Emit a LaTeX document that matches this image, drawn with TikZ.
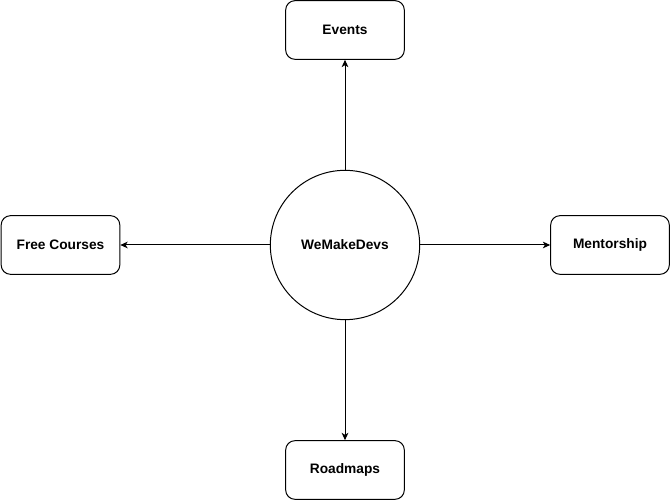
\documentclass[tikz,border=0pt]{standalone}
\usepackage{fontspec}
\setmainfont{Liberation Sans}
\usetikzlibrary{arrows.meta}

\begin{document}
\begin{tikzpicture}[x=0.75pt,y=0.75pt,line width=0.75pt,
    topic/.style={draw,rounded corners=7pt,minimum width=89pt,minimum height=44pt,
                  inner sep=0pt,font=\fontsize{10.3}{12}\selectfont\bfseries},
    hub/.style={draw,circle,minimum size=112pt,inner sep=0pt,
                font=\fontsize{10.3}{12}\selectfont\bfseries},
    link/.style={-{Stealth[length=5.5pt,width=5pt,inset=1.5pt]}}]
    \useasboundingbox (0,0) rectangle (672,502);
    \node [hub]   (hub)      at (345,257) {WeMakeDevs};
    \node [topic] (events)   at (345,472) {Events};
    \node [topic] (courses)  at (60.5,257) {Free Courses};
    \node [topic] (mentor)   at (610,257) {Mentorship};
    \node [topic] (roadmaps) at (345,32)  {Roadmaps};
    \draw [link] (hub) -- (events);
    \draw [link] (hub) -- (courses);
    \draw [link] (hub) -- (mentor);
    \draw [link] (hub) -- (roadmaps);
\end{tikzpicture}
\end{document}
